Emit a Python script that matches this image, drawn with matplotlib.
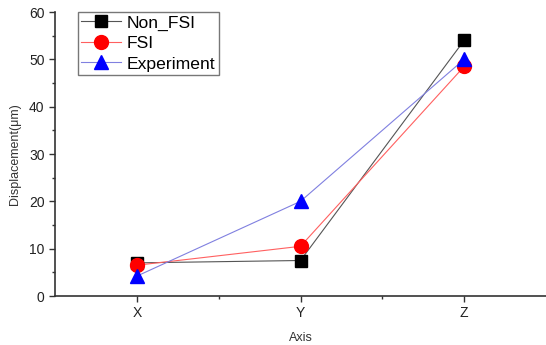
import matplotlib
matplotlib.use("Agg")
import matplotlib.pyplot as plt
from matplotlib.ticker import MultipleLocator, FixedLocator

plt.rcParams['font.family'] = ['Liberation Sans', 'DejaVu Sans']

categories = ["X", "Y", "Z"]
non_fsi = [7.0, 7.5, 54.0]
fsi = [6.5, 10.5, 48.5]
experiment = [4.2, 20.0, 50.0]

fig = plt.figure(figsize=(5.46, 3.45), dpi=100)
ax = fig.add_axes([55/546, 1-296/345, 1-55/546, (296-12)/345])

xs = [1, 2, 3]
ax.plot(xs, non_fsi, color='#555555', lw=0.8, marker='s', ms=9,
        mfc='black', mec='black', label='Non_FSI', zorder=3)
ax.plot(xs, fsi, color='#ff6060', lw=0.8, marker='o', ms=10,
        mfc='red', mec='red', label='FSI', zorder=3)
ax.plot(xs, experiment, color='#8080e0', lw=0.8, marker='^', ms=10,
        mfc='blue', mec='blue', label='Experiment', zorder=3)

ax.set_xlim(0.5, 3.5)
ax.set_ylim(0, 60)
ax.set_xticks(xs)
ax.set_xticklabels(categories)
ax.xaxis.set_minor_locator(FixedLocator([1.5, 2.5]))
ax.yaxis.set_major_locator(MultipleLocator(10))
ax.yaxis.set_minor_locator(MultipleLocator(5))
for s in ['top', 'right']:
    ax.spines[s].set_visible(False)
for s in ['left', 'bottom']:
    ax.spines[s].set_color('#333333')
    ax.spines[s].set_linewidth(1.2)
ax.tick_params(axis='both', which='major', length=4, width=1, color='#333333',
               labelsize=10, labelcolor='#222222')
ax.tick_params(axis='both', which='minor', length=2, width=1, color='#333333')

ax.set_xlabel('Axis', fontsize=9, color='#333333', labelpad=8)
ax.set_ylabel('Displacement(μm)', fontsize=9, color='#333333', labelpad=6)

leg = ax.legend(loc='upper left', bbox_to_anchor=(0.047, 1.0), fontsize=12.6,
                frameon=True, fancybox=False, handlelength=2.3,
                borderpad=0.18, labelspacing=0.3, handletextpad=0.3,
                borderaxespad=0.0)
leg.get_frame().set_edgecolor('#555555')
leg.get_frame().set_linewidth(1.0)

fig.savefig('out.png', dpi=100)
